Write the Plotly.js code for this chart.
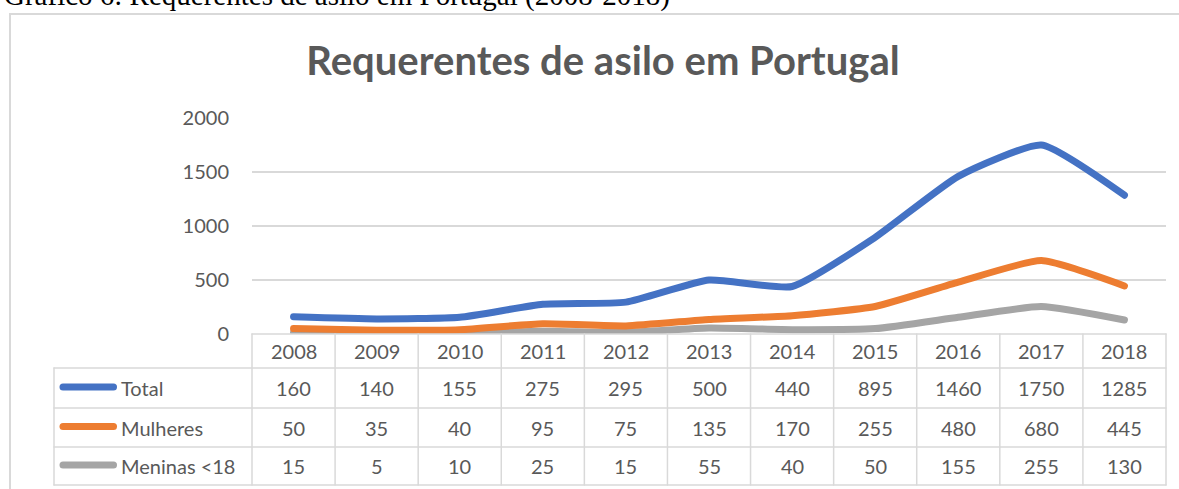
<!DOCTYPE html>
<html>
<head>
<meta charset="utf-8">
<script src="https://cdn.plot.ly/plotly-3.0.1.min.js"></script>
<style>
html, body { margin: 0; padding: 0; background: #ffffff; }
#chart { width: 1179px; height: 489px; }
.scatterlayer path.js-line { stroke-linecap: round; }
.shapelayer path { stroke-linecap: round; }
</style>
</head>
<body>
<div id="chart"></div>
<script>
// ---- data ----
const years = ['2008','2009','2010','2011','2012','2013','2014','2015','2016','2017','2018'];
const seriesNames = ['Total', 'Mulheres', 'Meninas <18'];
const total = [160, 140, 155, 275, 295, 500, 440, 895, 1460, 1750, 1285];
const mulheres = [50, 35, 40, 95, 75, 135, 170, 255, 480, 680, 445];
const meninas = [15, 5, 10, 25, 15, 55, 40, 50, 155, 255, 130];
const yTicks = [0, 500, 1000, 1500, 2000];
const chartTitle = 'Requerentes de asilo em Portugal';
const caption = 'Gráfico 6: Requerentes de asilo em Portugal (2008-2018)';

// ---- styling ----
const colors = ['#4472C4', '#ED7D31', '#A5A5A5'];
const textColor = '#595959';
const gridColor = '#d9d9d9';
const FONT = 'Lato, "Open Sans", sans-serif';
const W = 1179, H = 489;
const margin = {l: 252, r: 13, t: 118, b: 155};
const plotH = H - margin.t - margin.b;
const plotW = W - margin.l - margin.r;
const py = p => (H - margin.b - p) / plotH;   // pixel y -> paper y
const px = p => (p - margin.l) / plotW;       // pixel x -> paper x

const allSeries = [total, mulheres, meninas];
const traces = allSeries.map((vals, i) => ({
  type: 'scatter', mode: 'lines', name: seriesNames[i],
  x: years, y: vals,
  line: {color: colors[i], width: 7, shape: 'spline', smoothing: 0.5},
  hoverinfo: 'skip', showlegend: false
})).reverse();

// table geometry (pixel rows)
const rowLines = [368, 408, 447, 485];
const headerTop = H - margin.b;
const legendLeft = 54;

const shapes = [];
const annotations = [];
const lineStyle = {color: gridColor, width: 1.5};

// chart outer border
shapes.push({type: 'rect', xref: 'paper', yref: 'paper',
  x0: px(10), x1: px(1190), y0: py(14), y1: py(500),
  line: {color: gridColor, width: 2}, fillcolor: 'rgba(0,0,0,0)', layer: 'below'});

// table top (axis line)
shapes.push({type: 'line', xref: 'paper', yref: 'paper', x0: 0, x1: 1,
  y0: py(headerTop), y1: py(headerTop), line: lineStyle});
// horizontal row lines
rowLines.forEach(r => shapes.push({type: 'line', xref: 'paper', yref: 'paper',
  x0: px(legendLeft), x1: 1, y0: py(r), y1: py(r), line: lineStyle}));
// vertical column lines
shapes.push({type: 'line', xref: 'paper', yref: 'paper', x0: 0, x1: 0,
  y0: py(headerTop), y1: py(rowLines[3]), line: lineStyle});
shapes.push({type: 'line', xref: 'paper', yref: 'paper', x0: 1, x1: 1,
  y0: py(headerTop), y1: py(rowLines[3]), line: lineStyle});
for (let i = 1; i < years.length; i++) {
  shapes.push({type: 'line', xref: 'x', yref: 'paper', x0: i - 0.5, x1: i - 0.5,
    y0: py(headerTop), y1: py(rowLines[3]), line: lineStyle});
}
shapes.push({type: 'line', xref: 'paper', yref: 'paper', x0: px(legendLeft), x1: px(legendLeft),
  y0: py(rowLines[0]), y1: py(rowLines[3]), line: lineStyle});

// header years (category index positions)
years.forEach((yr, j) => annotations.push({xref: 'x', yref: 'paper', x: j,
  y: py((headerTop + rowLines[0]) / 2), text: yr, showarrow: false,
  xanchor: 'center', yanchor: 'middle', font: {family: FONT, size: 20, color: textColor}}));

// rows
allSeries.forEach((vals, i) => {
  const top = rowLines[i], bot = rowLines[i + 1];
  const cy = py((top + bot) / 2);
  vals.forEach((v, j) => annotations.push({xref: 'x', yref: 'paper', x: j, y: cy,
    text: String(v), showarrow: false, xanchor: 'center', yanchor: 'middle',
    font: {family: FONT, size: 20, color: textColor}}));
  // legend swatch (round caps add 3.5px on each side)
  shapes.push({type: 'line', xref: 'paper', yref: 'paper', x0: px(63), x1: px(113.5),
    y0: py((top + bot) / 2 - 1), y1: py((top + bot) / 2 - 1),
    line: {color: colors[i], width: 7}});
  annotations.push({xref: 'paper', yref: 'paper', x: px(119), y: cy, text: seriesNames[i],
    showarrow: false, xanchor: 'left', yanchor: 'middle',
    font: {family: FONT, size: 20, color: textColor}});
});

// caption (cropped at the top, as in the source page)
annotations.push({xref: 'paper', yref: 'paper', x: px(2), y: py(14), text: caption,
  showarrow: false, xanchor: 'left', yanchor: 'bottom',
  font: {family: '"Liberation Serif", "Times New Roman", serif', size: 29, color: '#000000'}});

const layout = {
  width: W, height: H,
  margin: margin,
  paper_bgcolor: '#ffffff', plot_bgcolor: '#ffffff',
  title: {text: chartTitle, xref: 'paper', x: px(603), xanchor: 'center',
    yref: 'container', y: 1 - 61 / H, yanchor: 'middle',
    font: {family: FONT, size: 40, weight: 'bold', color: textColor}},
  xaxis: {type: 'category', range: [-0.5, years.length - 0.5], showticklabels: false,
    showgrid: false, zeroline: false, showline: false, fixedrange: true},
  yaxis: {range: [0, 2000], tickvals: yTicks, ticktext: yTicks.map(String),
    showgrid: true, gridcolor: gridColor, gridwidth: 1.5, zeroline: false, showline: false,
    ticks: '', ticklabelstandoff: 22,
    tickfont: {family: FONT, size: 20, color: textColor}, fixedrange: true},
  shapes: shapes,
  annotations: annotations,
  showlegend: false
};

Plotly.newPlot('chart', traces, layout, {displayModeBar: false, staticPlot: true});
</script>
</body>
</html>
